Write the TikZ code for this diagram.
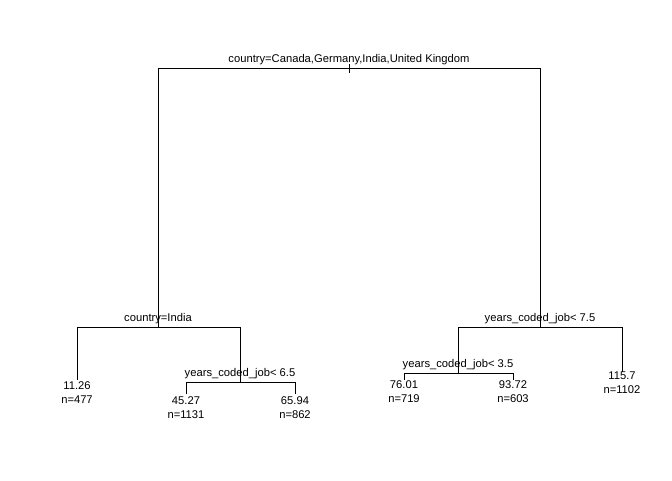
\documentclass[tikz,border=0pt]{standalone}
\usepackage{fontspec}
\setmainfont{Liberation Sans}
\tikzset{
  edge/.style={draw=black, line width=0.8pt},
  lbl/.style={inner sep=0pt, font=\fontsize{11.2}{13}\selectfont},
  leaf/.style={inner sep=0pt, align=center, font=\fontsize{11.2}{14}\selectfont, anchor=north}
}
\begin{document}
\begin{tikzpicture}[x=1pt,y=-1pt]
\useasboundingbox (0,0) rectangle (672,480);
% root
\coordinate (rootL) at (158,68);
\coordinate (rootR) at (540,68);
\coordinate (rootT1) at (349,64);
\coordinate (rootT2) at (349,73);
\node[lbl] (rootlab) at (349,59.5) {country=Canada,Germany,India,United Kingdom};
\draw[edge] (rootT1) -- (rootT2);
% left split
\coordinate (A) at (158,327);
\coordinate (AL) at (77,327);
\coordinate (AR) at (240,327);
\node[lbl] (Alab) at (158,318.5) {country=India};
\draw[edge] (A) -- (rootL) -- (rootR) -- (540,327);
\draw[edge] (AL) -- (AR);
% leaf 11.26
\coordinate (L1) at (77,380);
\draw[edge] (AL) -- (L1);
\node[leaf] (leaf1) at (77,381) {11.26\\n=477};
% right-of-left split
\coordinate (B) at (240,382);
\coordinate (BL) at (186,382);
\coordinate (BR) at (295,382);
\node[lbl] (Blab) at (240,373.5) {years\_coded\_job< 6.5};
\draw[edge] (AR) -- (B);
\draw[edge] (BL) -- (BR);
\coordinate (L2) at (186,394);
\coordinate (L3) at (295,394);
\draw[edge] (BL) -- (L2);
\draw[edge] (BR) -- (L3);
\node[leaf] (leaf2) at (186,396) {45.27\\n=1131};
\node[leaf] (leaf3) at (295,396) {65.94\\n=862};
% right split
\coordinate (C) at (540,327);
\coordinate (CL) at (458,327);
\coordinate (CR) at (622,327);
\node[lbl] (Clab) at (540,319) {years\_coded\_job< 7.5};
\draw[edge] (CL) -- (CR);
% left of right split
\coordinate (D) at (458,373);
\coordinate (DL) at (404,373);
\coordinate (DR) at (513,373);
\node[lbl] (Dlab) at (458,365) {years\_coded\_job< 3.5};
\draw[edge] (CL) -- (D);
\draw[edge] (DL) -- (DR);
\coordinate (L4) at (404,380);
\coordinate (L5) at (513,380);
\draw[edge] (DL) -- (L4);
\draw[edge] (DR) -- (L5);
\node[leaf] (leaf4) at (404,380) {76.01\\n=719};
\node[leaf] (leaf5) at (513,380) {93.72\\n=603};
% leaf 115.7
\coordinate (L6) at (622,372);
\draw[edge] (CR) -- (L6);
\node[leaf] (leaf6) at (622,372) {115.7\\n=1102};
\end{tikzpicture}
\end{document}
